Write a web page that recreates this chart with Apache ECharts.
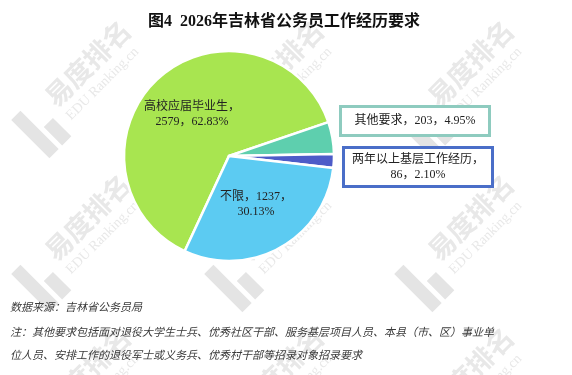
<!DOCTYPE html>
<html>
<head>
<meta charset="utf-8">
<script src="https://cdn.jsdelivr.net/npm/echarts@6/dist/echarts.min.js"></script>
<style>
html,body{margin:0;padding:0;background:#fff;}
#chart{width:572px;height:375px;}
</style>
</head>
<body>
<div id="chart"></div>
<script>
// ---- data ----
var titleText = '图4  2026年吉林省公务员工作经历要求';
var categories = ['高校应届毕业生', '其他要求', '两年以上基层工作经历', '不限'];
var values = [2579, 203, 86, 1237];
var percents = ['62.83%', '4.95%', '2.10%', '30.13%'];
var lineBreaks = ['name', 'none', 'name', 'value'];
var colors = ['#a8e550', '#5ecfae', '#4d5cc8', '#5ccbf2'];
var boxColors = [null, '#8ecbbf', '#4a6ec8', null];
var footnotes = [
  '数据来源：吉林省公务员局',
  '注：其他要求包括面对退役大学生士兵、优秀社区干部、服务基层项目人员、本县（市、区）事业单',
  '位人员、安排工作的退役军士或义务兵、优秀村干部等招录对象招录要求'
];
var watermarkMain = '易度排名';
var watermarkSub = 'EDU Ranking.cn';

// ---- build ----
var chart = echarts.init(document.getElementById('chart'), null, {renderer: 'canvas'});
var serifCJK = '"Liberation Serif", "Noto Sans CJK SC", serif';

function makeLabel(i) {
  var n = categories[i], v = values[i], p = percents[i];
  if (lineBreaks[i] === 'name') return n + '，\n' + v + '，' + p;
  if (lineBreaks[i] === 'value') return n + '，' + v + '，\n' + p;
  return n + '，' + v + '，' + p;
}

var data = categories.map(function (c, i) {
  var item = {name: c, value: values[i], itemStyle: {color: colors[i]}};
  if (boxColors[i]) {
    var single = lineBreaks[i] === 'none';
    item.label = {
      position: 'outside',
      borderColor: boxColors[i],
      borderWidth: 3,
      backgroundColor: '#fff',
      width: single ? 128 : 136,
      overflow: 'none',
      align: 'center',
      padding: single ? [6, 9, 5, 9] : [3, 5, 3, 5]
    };
    item.labelLine = {show: false};
  }
  return item;
});

// watermark tiles
var wmCenters = [];
[48, 241, 431].forEach(function (x) {
  [120, 274, 427].forEach(function (y) { wmCenters.push([x, y]); });
});
var wmColor = '#e4e4e4';
var wmTextColor = '#e8e8e8';
var graphics = wmCenters.map(function (c) {
  return {
    type: 'group', x: c[0], y: c[1], rotation: Math.PI / 4, z: -10, silent: true,
    children: [
      {type: 'rect', shape: {x: -26, y: -26, width: 13, height: 54}, style: {fill: wmColor}},
      {type: 'rect', shape: {x: -8, y: 2, width: 13, height: 26}, style: {fill: wmColor}},
      {type: 'text', x: 14, y: -12, style: {text: watermarkMain, fill: wmTextColor, fontSize: 27, fontWeight: 'bold', fontFamily: '"Noto Sans CJK SC"', verticalAlign: 'middle', textVerticalAlign: 'middle'}},
      {type: 'text', x: 16, y: 13, style: {text: watermarkSub, fill: wmTextColor, fontSize: 14, fontFamily: '"Liberation Serif", serif', verticalAlign: 'middle', textVerticalAlign: 'middle'}}
    ]
  };
});
var footTops = [301, 326, 349];
footnotes.forEach(function (t, i) {
  graphics.push({
    type: 'text', left: 10, top: footTops[i], z: 5,
    style: {text: t, fill: '#3a3a3a', fontSize: 11, fontStyle: 'italic', fontFamily: '"Noto Sans CJK SC"'}
  });
});

var labelPos = {1: [415, 121], 2: [418, 167]};

chart.setOption({
  backgroundColor: '#fff',
  animation: false,
  title: {
    text: titleText, left: 279, top: 9, textAlign: 'center',
    textStyle: {fontSize: 16, fontWeight: 'bold', color: '#111', fontFamily: serifCJK}
  },
  graphic: graphics,
  series: [{
    type: 'pie',
    center: [229, 156],
    radius: 105,
    startAngle: 245,
    clockwise: true,
    avoidLabelOverlap: false,
    percentPrecision: 2,
    itemStyle: {borderColor: '#fff', borderWidth: 2.5},
    label: {
      show: true, position: 'inside',
      formatter: function (p) { return makeLabel(p.dataIndex); },
      color: '#222', fontSize: 12, lineHeight: 15,
      fontFamily: serifCJK
    },
    labelLayout: function (p) {
      var pos = labelPos[p.dataIndex];
      if (pos) return {x: pos[0], y: pos[1], align: 'center', verticalAlign: 'middle'};
      return {};
    },
    data: data
  }]
});
</script>
</body>
</html>
